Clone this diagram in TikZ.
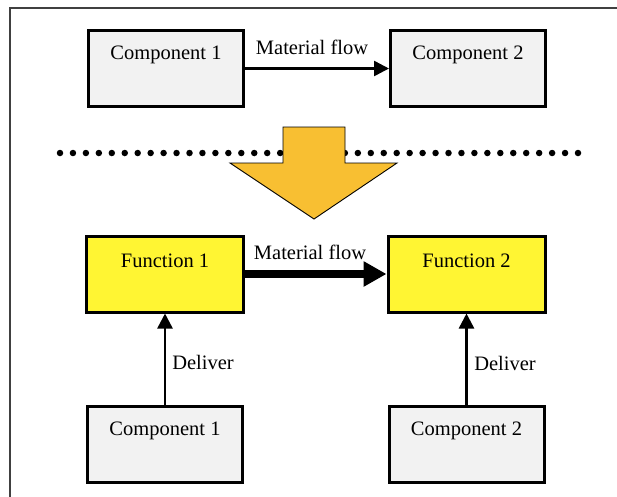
\documentclass[tikz,border=0pt]{standalone}
\usepackage{fontspec}
\setmainfont{Liberation Serif}
\usetikzlibrary{arrows.meta}
\definecolor{boxgray}{HTML}{F2F2F2}
\definecolor{funcyellow}{HTML}{FFF533}
\definecolor{bigarrow}{HTML}{F8BF32}
\definecolor{framegray}{HTML}{404040}
\begin{document}
\begin{tikzpicture}[x=1pt,y=-1pt,
  every node/.style={font=\fontsize{20.5}{24}\selectfont},
  compbox/.style={draw=black, line width=3pt, fill=boxgray, minimum width=155pt, minimum height=76pt, inner sep=0pt},
  funcbox/.style={draw=black, line width=3pt, fill=funcyellow, minimum width=157pt, minimum height=76pt, inner sep=0pt},
  boxlabel/.style={anchor=center, yshift=-26pt},
  thinarrow/.style={line width=2.5pt, -{Triangle[length=15pt,width=15pt]}},
  thickarrow/.style={line width=8pt, -{Triangle[length=23pt,width=24pt]}},
  lbl/.style={inner sep=0pt}
]
\useasboundingbox (0,0) rectangle (617,496);
\fill[white] (0,0) rectangle (617,496);
% frame
\draw[framegray, line width=2pt] (617,8) -- (10,8) -- (10,497);

% top row
\node[compbox, label={[boxlabel]north:Component 1}] (c1t) at (166,68.5) {};
\node[compbox, label={[boxlabel]north:Component 2}] (c2t) at (468,68.5) {};
\draw[thinarrow] (c1t.east) -- (c2t.west);
\node[lbl] (mf1) at (312,47) {Material flow};

% dotted separator
\coordinate (dl) at (60,153);
\coordinate (dr) at (578.5,153);
\draw[line width=6.5pt, line cap=round, dash pattern=on 0pt off 12.95pt] (dl) -- (dr);

% big arrow
\draw[fill=bigarrow, draw=black, line width=0.9pt, line join=miter]
  (283,127) -- (345,127) -- (345,163) -- (397,163) -- (314,219) -- (230,163) -- (283,163) -- cycle;

% function row
\node[funcbox, label={[boxlabel]north:Function 1}] (f1) at (165,274) {};
\node[funcbox, label={[boxlabel]north:Function 2}] (f2) at (466.5,274) {};
\draw[thickarrow] (f1.east) -- (f2.west);
\node[lbl] (mf2) at (310,252) {Material flow};

% bottom row
\node[compbox, label={[boxlabel]north:Component 1}] (c1b) at (165,444) {};
\node[compbox, label={[boxlabel]north:Component 2}] (c2b) at (466.5,444) {};
\draw[thinarrow] (c1b.north) -- (f1.south);
\draw[thinarrow] (c2b.north) -- (f2.south);
\node[lbl] (d1) at (203,362) {Deliver};
\node[lbl] (d2) at (505,363) {Deliver};
\end{tikzpicture}
\end{document}
